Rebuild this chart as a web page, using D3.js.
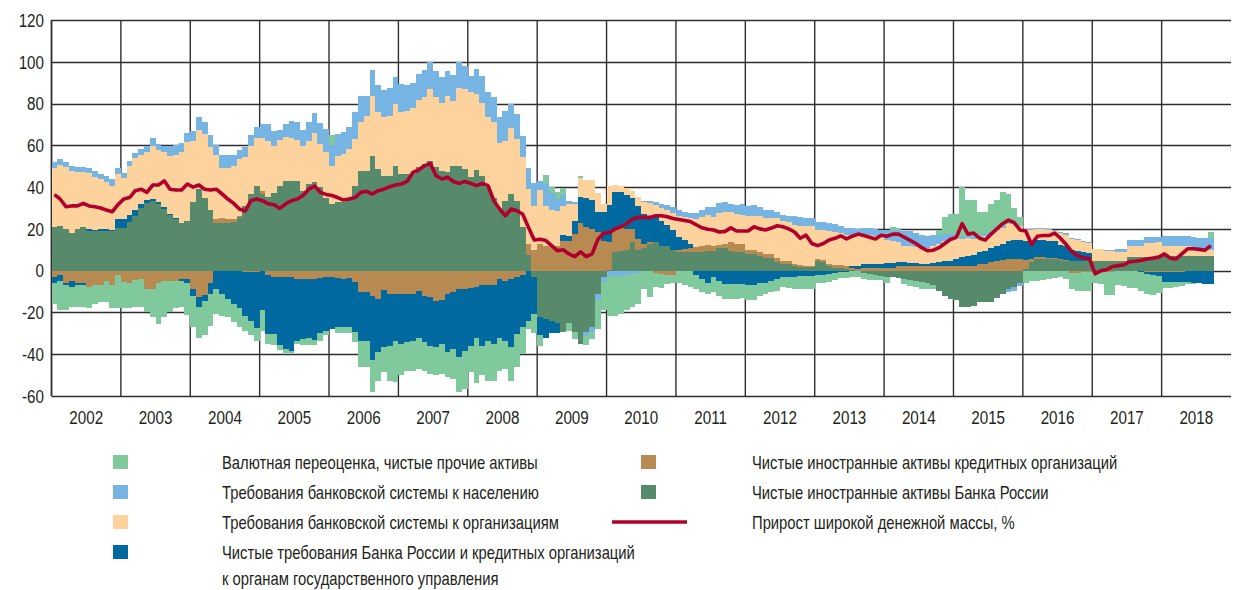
<!DOCTYPE html>
<html>
<head>
<meta charset="utf-8">
<script src="https://cdn.jsdelivr.net/npm/d3@7"></script>
<style>
  html, body { margin: 0; padding: 0; background: #fff; }
  svg { display: block; }
  text { font-family: "Liberation Sans", Arial, sans-serif; fill: #231f20; }
</style>
</head>
<body>
<svg id="chart" width="1234" height="590"></svg>
<script>
// monthly data, Jan 2002 .. Sep 2018, % of money supply
const years = d3.range(2002, 2019);
const yTicks = [-60, -40, -20, 0, 20, 40, 60, 80, 100, 120];

// Чистые иностранные активы Банка России
const cbrForeign = [
  20.7, 21.5, 20, 18, 20, 20.7, 19, 19, 18.8, 19, 19, 20.5,
  20.5, 23.5, 26, 30, 32.5, 33.5, 32, 29.5, 26.5, 24.5, 23, 24,
  32.7, 39, 35, 29, 23, 23, 23, 23.5, 25.5, 31, 36.7, 40.7,
  36.7, 35.4, 37, 40.7, 42.7, 43, 42.7, 38.3, 41.5, 42.3, 40, 35,
  32, 32.7, 32.7, 34.3, 40.7, 47.8, 47.8, 55, 48.6, 45.5, 45.5, 50.2,
  46.2, 46.5, 46.2, 49.4, 51, 52.6, 49.8, 47.8, 47, 50.2, 50.2, 48.6,
  44.7, 48.2, 45.5, 40, 35, 29.5, 33.5, 36.7, 33.5, 20.7, 7.7, -3,
  -22, -23, -24, -25, -29.5, -25, -29.5, -35, -29.5, -27, -11, -3,
  0.5, 9, 9.5, 10, 13.5, 10, 11, 13, 13.5, 12, 12, 10,
  9, 9, 9, 9, 9, 9.5, 9.6, 11, 11, 9.6, 9, 8.8,
  8, 8, 7, 6, 6, 4, 3, 3, 2, 1.6, 1.6, 1.6,
  4.5, 4, 2, 1.5, 1.5, 1, 0.5, 0, -1, -1.5, -2, -2.5,
  -3, -3, -3.5, -4, -4.5, -5, -5.6, -6, -7, -9.6, -12, -13.6,
  -14, -17.5, -17.5, -17, -15, -15, -15, -13, -11, -9, -8, -6,
  1, 4, 5.6, 5.6, 5.6, 5.6, 5, 4.8, 4.8, 4.8, 4.8, 4.8,
  4.8, 4.8, 4.8, 4.8, 4.8, 4.8, 6.4, 6.4, 6.4, 6.4, 6.4, 6.4,
  7.2, 7.2, 7.2, 7.2, 7.2, 7, 7, 7, 7
];

// Чистые иностранные активы кредитных организаций
const banksForeign = [
  -3, -2, -6, -5, -6, -6, -8, -7, -7, -5, -7, -2,
  -5.5, -6, -4.5, -4, -9, -9, -6, -5, -5, -5, -4, -4,
  -9, -12.4, -11.5, -6, 1.5, 2, 1.5, 1, 0.5, -0.5, -0.5, -0.5,
  1.5, -2, -3, -3, -3, -3, -4, -4, -4, -4, -3.5, -3,
  -3, -3.3, -3.8, -3.3, -5.6, -10, -10, -12, -13.6, -9.3, -11, -11.2,
  -11, -11.2, -11.2, -9.6, -12, -12.8, -14.7, -14, -11, -10, -9, -8.8,
  -8.3, -8, -7, -7, -7, -4, -5, -4, -3, -2, 5, 10,
  12.8, 12, 12, 12, 14, 14.4, 17.5, 23, 20.7, 20, 18.3, 14.4,
  13, 11, 11, 10, 6.5, 5, 2, 0.5, -1, -1.5, -2, -2,
  1, 1.5, 2, 2.5, 3, 3, 2.4, 1.5, 2, 4, 4, 4,
  2, 2, 2, 2, 2, 2, 1.5, 1.5, 1, 1, 0.8, 0.8,
  1, 1, 1, 1, 1, 1, 1, 1, 1.5, 1.5, 1.5, 1.5,
  1.5, 1.5, 2, 2.4, 2.4, 2, 2, 2, 2, 2, 2.4, 2.4,
  2.4, 2.4, 2.4, 2.4, 3, 3, 4, 4.5, 5, 5.6, 5.6, 5.6,
  4, 1.5, 1, 1, 0.5, 0.5, 0.5, 0.5, -1, -1, -0.5, -0.5,
  -0.5, -0.5, -0.5, -0.5, -0.3, -0.3, -0.3, -0.3, -0.3, -0.5, -0.5, -0.5,
  -0.5, -0.5, -0.5, -0.5, -0.3, -0.3, -0.3, -0.3, -0.3
];

// Чистые требования к органам государственного управления
const government = [
  -3, -3, -1, -3, -1, -1, 1, 0.5, 1, 1, 0.5, 4,
  4, 3, 3, 2, 1.5, 1, 1, 1, 0.5, 0.5, -1, -2,
  -3, -5, -3, -5, -8.8, -11, -13.5, -16, -18, -21, -23.5, -27,
  -19, -28.3, -27.3, -32.4, -34.5, -35.6, -29.5, -28.7, -28, -29, -26.5, -25.7,
  -25, -23.7, -23.2, -23.7, -23.9, -23.5, -23.5, -31, -25.4, -27.4, -25, -22.3,
  -24, -23.1, -22.3, -22.4, -22.3, -23.2, -22, -21, -28, -27.5, -32.5, -29.5,
  -27.7, -24, -29, -26.5, -28, -28, -28.5, -32.7, -27.3, -25, -24, -17.7,
  -9, -9, -6, -5, 3, 2.4, 6.4, 12.5, 14, 14, 10, 13.6,
  18, 17.5, 17, 16, 15, 16, 14, 12, 12, 12, 10, 9.5,
  6, 4, 2, -2, -4, -6, -3, -5, -6.4, -6.4, -6.4, -6.4,
  -7, -7, -6, -6, -5, -4, -3, -3, -3, -2.5, -2.4, -2.4,
  -2, -2, -1.5, -1, -0.5, -0.5, 0.5, 1, 1.5, 1.5, 1.5, 1.5,
  2, 2, 2, 1.6, 1.5, 1.5, 1, 1, 1.5, 2, 2.4, 2.4,
  3, 4, 4.5, 5, 6, 6.5, 7, 7.5, 8, 8.5, 9, 9,
  9, 8, 8, 8, 8, 8, 7, 6.5, 5, 4.8, 4, 3.5,
  0, 0, 0, 0, 0, 0, 0, 0, -0.5, -1, -1.5, -2,
  -4.8, -4.8, -5, -5, -5.2, -5.5, -5.5, -6, -6.3
];

// Требования банковской системы к организациям
const companies = [
  28.3, 29, 29.4, 29.5, 27, 26.3, 26.6, 25.5, 24, 22.3, 21.2, 21.7,
  19.8, 23.7, 25, 23.5, 22.6, 25.3, 24.7, 26.1, 28, 30.5, 33.6, 37.4,
  29.5, 28.5, 30.4, 30, 31, 24, 24.5, 25.7, 27.4, 23.5, 23.1, 22.8,
  25.3, 26.6, 22.8, 21.8, 21.3, 20.5, 19.8, 21.5, 20.7, 23.4, 20.6, 22,
  18, 22.3, 23.1, 23.9, 22.3, 23.2, 26.2, 28.7, 27.2, 27.9, 28.7, 29.5,
  29.6, 30.1, 31.8, 32.3, 32, 34.4, 33.2, 32.7, 36.7, 31.1, 37.2, 38.4,
  40.6, 36.3, 35, 33.4, 36, 31.5, 28.7, 31.6, 29.5, 33.5, 26.2, 21,
  26, 19, 17, 16.5, 14, 15, 8, 9, 8.8, 9.6, 9, 4,
  9, 3.5, 3, 3.5, 3, 4.5, 6, 7, 6, 6, 7, 8,
  10, 11, 12, 13, 13.5, 14, 13.5, 15, 15, 14.5, 14, 14,
  16, 16, 17, 17, 17, 19, 19.5, 19, 19, 19, 19, 19,
  14, 14.5, 16, 16, 15.5, 15, 15, 14.5, 14, 14, 13.5, 13.5,
  11, 10.5, 9.5, 8, 8, 8, 8, 8, 8.5, 9, 9.6, 9.6,
  11.1, 8.6, 8.6, 7.6, 6.5, 7, 6.3, 7.7, 7.5, 8.2, 7.7, 6.9,
  5.5, 6, 5.5, 5.5, 5.5, 5, 5.5, 5.5, 5.5, 5, 4.8, 4.8,
  5.6, 5.6, 4.8, 4.8, 4, 4, 5.6, 5.6, 5.6, 7, 7, 7.2,
  4.8, 4.8, 4.8, 4.8, 4.5, 4, 3, 3, 3
];

// Требования банковской системы к населению
const households = [
  2.8, 2.9, 2.5, 2.5, 2.5, 2.5, 2.7, 2.5, 2.5, 2.8, 3, 3,
  2.5, 2.5, 2.5, 2.8, 3.2, 3.7, 3, 3.2, 4.5, 4.8, 4.4, 4.3,
  4.5, 6, 5.6, 6, 4.5, 6.5, 6.5, 5, 4.5, 4.5, 5, 5.5,
  6.5, 8, 7.2, 5, 6, 8, 8.5, 7.5, 9, 9.6, 10, 11,
  10, 10.4, 10.4, 10.7, 12.8, 12.4, 9.4, 12.3, 13.2, 13, 13.2, 12.8,
  13.5, 12.4, 12, 12.3, 13, 12.7, 12.4, 12.3, 11.7, 12.5, 12.6, 11,
  8, 12, 12.8, 11.9, 12, 12.4, 14.4, 11.7, 12, 10.4, 10.4, 11.2,
  4, 11, 8, 6, 5, 1.5, 1, 0, -2, -2.5, -3, -2.4,
  -2.5, -2.5, -2.4, -2, -1.5, -1, 0.5, 1, 1.5, 2, 2.5, 3,
  3, 2.5, 2.5, 3, 3.5, 4, 5, 5, 5, 4, 4.5, 5,
  5, 5.5, 4.5, 4, 4, 3, 2.5, 2.5, 4, 4, 4, 4,
  4, 4, 4, 4, 3.5, 3.5, 3.5, 3.5, 3.5, 3.5, 3.5, 3,
  5, 5.5, 6, 7, 7, 6.5, 6, 5.5, 5, 4, 3.2, 3.2,
  1, 1, 1, 1, 1, 1, 1, 1, 1, -1, -1.5, -1.5,
  0.5, 0.5, 0.5, 0.5, 0.5, 0.5, 0.5, 0.5, 0.5, 0.5, 0.5, 0.5,
  0, 0, 0.3, 0.3, 1.5, 1.6, 2.5, 2.5, 2.5, 2.5, 2.5, 2.5,
  4.7, 4.7, 4.7, 4.7, 5, 5, 5.5, 5.5, 5.5
];

// Валютная переоценка, чистые прочие активы
const revaluation = [
  -10, -14, -12, -9.5, -10.5, -10.5, -10, -9, -8, -10, -11, -16,
  -12.5, -12, -13, -13.5, -11, -13, -19.5, -17, -15, -13, -12.5, -15,
  -15, -14.6, -16.5, -15.3, -11.9, -10.5, -8.5, -8.7, -9, -7.2, -7, -6,
  -10, -4.7, -5.1, -2.6, -1.9, -0.9, -1.5, -2.7, -3.5, -2.4, -3.5, -2.3,
  5, -3, -3, -3, -4.5, -12.5, -12.5, -15, -13.6, -11.9, -16.6, -19.9,
  -15, -13.5, -14.3, -15, -13.5, -13.4, -13.3, -14.4, -12, -14.3, -16.5, -18.3,
  -12.6, -22, -14, -19.1, -17.6, -15.8, -13.5, -15.9, -15.9, -13, -4, -9.3,
  -5, 4, 3, 3, 3.5, -4, -3, 1, -4, -3, -14, -13.6,
  -19, -19, -18.3, -17, -16, -15, -9, -12.8, -7, -7, -4.4, -4,
  -6, -7, -8, -7, -6, -5, -7, -7, -7.2, -7.2, -7.2, -6.6,
  -7, -7, -6, -5, -5, -5.5, -5, -5.5, -6, -6.5, -6.4, -6.4,
  -4, -4, -4, -3.5, -3, -3, -3, -3, -3, -3, -2.5, -2,
  -3, 1.5, 1, -2.5, -3, -3, -3, -3, -2, 2.4, 8, 9.6,
  9.5, 24, 17.5, 18, 11.5, 10.5, 13.7, 13.3, 16, 14.4, 7.7, 4,
  -6, -5, -5, -4.5, -4, -3.5, -3, -4, -8, -8.5, -9, -9,
  -5.6, -6, -11, -11, -6.5, -7, -8, -8, -9, -9.5, -9.5, -8,
  -3, -3, -2.5, -2, -0.8, -0.5, -0.3, -0.2, 2.8
];

// Прирост широкой денежной массы, %
const moneyGrowth = [
  36.4, 34.3, 30.6, 31, 31, 32.2, 31, 30.6, 30, 29, 28.2, 31.6,
  34.3, 35, 38.3, 39, 37.5, 41, 41, 43, 39, 38.6, 38.6, 41.5,
  40, 41, 39, 38.6, 39, 36.7, 34.3, 32.2, 29.5, 28.5, 33.5, 34.3,
  33.5, 32, 31.6, 29.8, 32, 33.5, 34.3, 36, 39, 40.5, 37.5, 36.5,
  36, 35, 33.8, 34.3, 35, 37.5, 38, 36.7, 38.3, 39, 40.2, 41,
  41.5, 42.7, 47, 48.2, 50.2, 51.4, 45.5, 43.9, 44.7, 42.7, 41.8, 42.7,
  41.8, 40.7, 41.8, 40.7, 33.5, 29.5, 26.3, 29.5, 28.7, 27, 20.7, 14.7,
  15, 14.4, 12, 9.6, 10, 8, 6.7, 9, 6.7, 8, 15, 17.9,
  18.3, 20, 21, 22.6, 24.7, 25.5, 25.5, 25.5, 26.3, 26.3, 25.8, 25,
  24.5, 24, 23.5, 22, 20.5, 19.8, 19.5, 18.5, 18.8, 20.5, 19, 19,
  19, 21, 20, 19.5, 20.4, 21.5, 21, 20, 18.5, 15.5, 17, 13,
  12, 13, 14.7, 15.5, 16.7, 15.2, 16.5, 17.5, 16.8, 16, 15.2, 17,
  16.5, 17.5, 17.5, 16, 14.5, 13, 11, 9.6, 9.8, 11, 13, 15,
  16, 22.5, 17.5, 18, 15.5, 14.7, 17.5, 20, 22.5, 24.2, 23, 19.5,
  19, 12.5, 16.5, 16.8, 16.8, 18, 15.5, 12.5, 9, 7, 6.2, 5.8,
  -1.5, 0, 0.5, 2, 2.4, 2.8, 4.3, 4.5, 5, 5.6, 6, 6.5,
  8, 6, 5.6, 8, 10.5, 10.5, 10.2, 9.8, 12
];

const seriesKeys = ["cbr", "banks", "gov", "org", "hh", "reval"];
const seriesColors = {
  cbr: "#568a6a",
  banks: "#b68a50",
  gov: "#00699f",
  org: "#fdd29d",
  hh: "#76b5e3",
  reval: "#80c99c"
};
const lineColor = "#b2002d";

const legendLeft = [
  { key: "reval", label: ["Валютная переоценка, чистые прочие активы"] },
  { key: "hh", label: ["Требования банковской системы к населению"] },
  { key: "org", label: ["Требования банковской системы к организациям"] },
  { key: "gov", label: ["Чистые требования Банка России и кредитных организаций", "к органам государственного управления"] }
];
const legendRight = [
  { key: "banks", label: "Чистые иностранные активы кредитных организаций" },
  { key: "cbr", label: "Чистые иностранные активы Банка России" },
  { key: "line", label: "Прирост широкой денежной массы, %" }
];

const rows = moneyGrowth.map((v, i) => ({
  i: i,
  cbr: cbrForeign[i],
  banks: banksForeign[i],
  gov: government[i],
  org: companies[i],
  hh: households[i],
  reval: revaluation[i],
  m2: v
}));

const svg = d3.select("#chart");

// one year band = 12 months
const x = d3.scaleLinear()
  .domain([0, years.length * 12])
  .range([51.5, 1231]);
const y = d3.scaleLinear()
  .domain([-60, 120])
  .range([396, 20]);

const gridColor = "#2e2e2e";

// horizontal grid
svg.append("g")
  .selectAll("line")
  .data(yTicks)
  .enter()
  .append("line")
  .attr("x1", x(0))
  .attr("x2", x(years.length * 12))
  .attr("y1", d => Math.round(y(d)) + 0.5)
  .attr("y2", d => Math.round(y(d)) + 0.5)
  .attr("stroke", gridColor)
  .attr("stroke-width", 1.4);

// vertical grid at year starts
svg.append("g")
  .selectAll("line")
  .data(years)
  .enter()
  .append("line")
  .attr("x1", (d, k) => x(k * 12))
  .attr("x2", (d, k) => x(k * 12))
  .attr("y1", y(120))
  .attr("y2", y(-60))
  .attr("stroke", gridColor)
  .attr("stroke-width", (d, k) => k === 0 ? 1.8 : 1.4);

// diverging stacked monthly bars
const stack = d3.stack()
  .keys(seriesKeys)
  .offset(d3.stackOffsetDiverging);
const layers = stack(rows);

const bars = svg.append("g").attr("shape-rendering", "crispEdges");
layers.forEach(layer => {
  bars.append("g")
    .attr("fill", seriesColors[layer.key])
    .selectAll("rect")
    .data(layer)
    .enter()
    .append("rect")
    .attr("x", d => Math.round(x(d.data.i)))
    .attr("width", d => Math.round(x(d.data.i + 1)) - Math.round(x(d.data.i)))
    .attr("y", d => Math.round(y(Math.max(d[0], d[1]))))
    .attr("height", d => Math.round(y(Math.min(d[0], d[1]))) - Math.round(y(Math.max(d[0], d[1]))));
});

// money supply growth line
const line = d3.line()
  .x(d => x(d.i + 0.5))
  .y(d => y(d.m2));

svg.append("path")
  .datum(rows)
  .attr("d", line)
  .attr("fill", "none")
  .attr("stroke", lineColor)
  .attr("stroke-width", 3.6)
  .attr("stroke-linejoin", "round");

// the original uses a condensed face: squeeze text horizontally around its anchor
const squeeze = 0.8;
function condense(sel) {
  sel.attr("transform", function() {
    const tx = +this.getAttribute("x"), ty = +this.getAttribute("y");
    return `translate(${tx},${ty}) scale(${squeeze},1) translate(${-tx},${-ty})`;
  });
}

// y axis labels
svg.append("g")
  .selectAll("text")
  .data(yTicks)
  .enter()
  .append("text")
  .attr("x", 44)
  .attr("y", d => y(d))
  .attr("dy", "0.36em")
  .attr("text-anchor", "end")
  .style("font-size", "19px")
  .text(d => d)
  .call(condense);

// year labels
svg.append("g")
  .selectAll("text")
  .data(years)
  .enter()
  .append("text")
  .attr("x", (d, k) => x(k * 12 + 6))
  .attr("y", 417)
  .attr("dy", "0.36em")
  .attr("text-anchor", "middle")
  .style("font-size", "19px")
  .text(d => d)
  .call(condense);

// legend
const legend = svg.append("g").style("font-size", "18.5px");
legendLeft.forEach((item, k) => {
  const ly = 462 + k * 30;
  legend.append("rect")
    .attr("x", 113).attr("y", ly - 7)
    .attr("width", 15).attr("height", 14)
    .attr("fill", seriesColors[item.key]);
  item.label.forEach((t, j) => {
    legend.append("text")
      .attr("x", 222).attr("y", ly + j * 26)
      .attr("dy", "0.36em")
      .text(t)
      .call(condense);
  });
});
legendRight.forEach((item, k) => {
  const ly = 462 + k * 30;
  if (item.key === "line") {
    legend.append("line")
      .attr("x1", 612).attr("x2", 687)
      .attr("y1", ly).attr("y2", ly)
      .attr("stroke", lineColor)
      .attr("stroke-width", 3.6);
  } else {
    legend.append("rect")
      .attr("x", 641).attr("y", ly - 7)
      .attr("width", 15).attr("height", 14)
      .attr("fill", seriesColors[item.key]);
  }
  legend.append("text")
    .attr("x", 752).attr("y", ly)
    .attr("dy", "0.36em")
    .text(item.label)
    .call(condense);
});
</script>
</body>
</html>
